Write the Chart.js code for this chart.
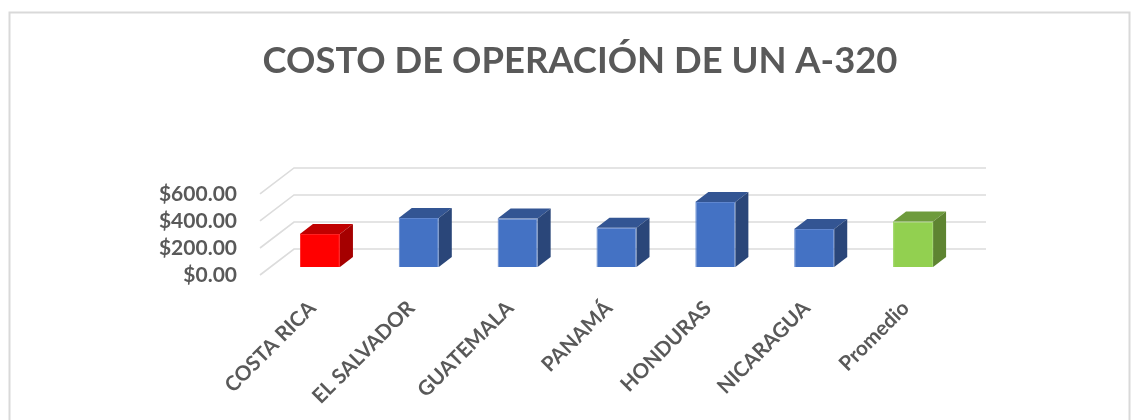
<!DOCTYPE html>
<html><head><meta charset="utf-8">
<style>html,body{margin:0;padding:0;background:#fff}canvas{display:block}</style>
<script src="https://cdn.jsdelivr.net/npm/chart.js@4"></script>
</head><body>
<div style="width:1139px;height:420px"><canvas id="c" width="1139" height="420"></canvas></div>
<script>
const titleText = 'COSTO DE OPERACIÓN DE UN A-320';
const categories = ['COSTA RICA','EL SALVADOR','GUATEMALA','PANAMÁ','HONDURAS','NICARAGUA','Promedio'];
const costs = [244, 363, 360, 290, 481, 281, 337];
const frontColors = ['#ff0000','#4472c4','#4472c4','#4472c4','#4472c4','#4472c4','#92d050'];
const topColors   = ['#c00000','#335593','#335593','#335593','#335593','#335593','#6e9b3c'];
const sideColors  = ['#a50000','#2a4679','#2a4679','#2a4679','#2a4679','#2a4679','#5e8431'];
const edgeColors  = ['#ff2020','#5f86cf','#5f86cf','#5f86cf','#5f86cf','#5f86cf','#9cd663'];

const WALL = {dx:34, dy:26};     // depth of the 3D floor
const BAR  = {dx:10.5, dy:8};    // how far the bars stand behind the front edge
const DEPTH = {dx:13, dy:10};    // depth of a bar

const box3d = {
  id:'box3d',
  afterLayout(chart){
    chart.titleBlock.left += 104; chart.titleBlock.right += 104;
  },
  beforeDraw(chart){
    const c = chart.ctx;
    c.save();
    c.strokeStyle='#d9d9d9'; c.lineWidth=2;
    c.beginPath(); c.moveTo(9.5,450); c.lineTo(9.5,12.5); c.lineTo(1129.5,12.5); c.lineTo(1129.5,450); c.stroke();
    const {left,right} = chart.chartArea, y = chart.scales.y;
    c.lineWidth=1.6; c.strokeStyle='#dcdcdc';
    y.ticks.forEach(t=>{
      const p = y.getPixelForValue(t.value);
      c.beginPath();
      c.moveTo(left,p); c.lineTo(left+WALL.dx,p-WALL.dy); c.lineTo(right+WALL.dx,p-WALL.dy);
      c.stroke();
    });
    c.restore();
  },
  beforeDatasetsDraw(chart){ chart.ctx.save(); chart.ctx.translate(BAR.dx,-BAR.dy); },
  afterDatasetsDraw(chart){
    const c = chart.ctx;
    chart.getDatasetMeta(0).data.forEach((b,i)=>{
      const l=b.x-b.width/2, r=b.x+b.width/2, t=b.y, bt=b.base;
      c.fillStyle=topColors[i];
      c.beginPath(); c.moveTo(l,t); c.lineTo(l+DEPTH.dx,t-DEPTH.dy); c.lineTo(r+DEPTH.dx,t-DEPTH.dy); c.lineTo(r,t); c.closePath(); c.fill();
      c.fillStyle=sideColors[i];
      c.beginPath(); c.moveTo(r,t); c.lineTo(r+DEPTH.dx,t-DEPTH.dy); c.lineTo(r+DEPTH.dx,bt-DEPTH.dy); c.lineTo(r,bt); c.closePath(); c.fill();
    });
    c.restore();
  }
};

new Chart(document.getElementById('c'),{
  type:'bar',
  data:{labels:categories,datasets:[{data:costs,backgroundColor:frontColors,borderColor:edgeColors,borderWidth:1,
    categoryPercentage:1,barPercentage:0.405,clip:false}]},
  plugins:[box3d],
  options:{
    responsive:false,animation:false,
    layout:{padding:{left:0,right:187,top:0,bottom:0}},
    plugins:{legend:{display:false},tooltip:{enabled:false},
      title:{display:true,text:titleText,color:'#595959',
        font:{family:'Lato',size:36.4,weight:'bold',lineHeight:1.2},
        padding:{top:39,bottom:111.3}}},
    scales:{
      x:{afterFit(s){s.height=145;},
        grid:{display:false},border:{display:false},
        ticks:{autoSkip:false,minRotation:45,maxRotation:45,padding:13,labelOffset:3,color:'#595959',
          font:{family:'Lato',size:20.6,weight:'bold'}}},
      y:{min:0,max:600,afterFit(s){s.width=260;},
        grid:{display:false},border:{display:false},
        ticks:{autoSkip:false,stepSize:200,padding:15,color:'#595959',
          font:{family:'Lato',size:21,weight:'bold'},
          callback:v=>'$'+v.toFixed(2)}}
    }
  }
});
</script>
</body></html>
